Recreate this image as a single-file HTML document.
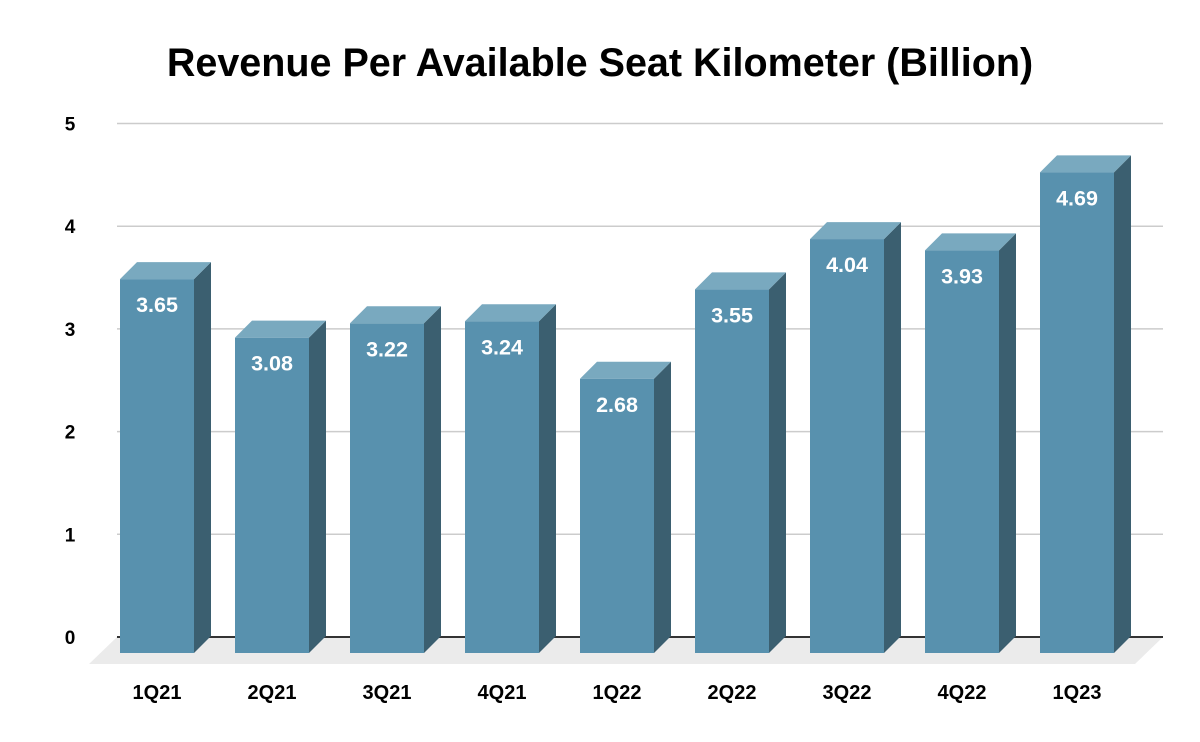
<!DOCTYPE html>
<html><head><meta charset="utf-8"><style>
body{margin:0;background:#fff;}
svg{display:block;font-family:"Liberation Sans",Arial,sans-serif;}
</style></head><body>
<svg id="chart" width="1200" height="742" viewBox="0 0 1200 742">
<text x="600" y="76" text-anchor="middle" font-size="39.5" font-weight="bold" fill="#000">Revenue Per Available Seat Kilometer (Billion)</text>
<g id="grid"></g><g id="bars"></g><g id="labels"></g>
</svg>
<script>
const categories=["1Q21","2Q21","3Q21","4Q21","1Q22","2Q22","3Q22","4Q22","1Q23"];
const values=[3.65,3.08,3.22,3.24,2.68,3.55,4.04,3.93,4.69];
const valueLabels=["3.65","3.08","3.22","3.24","2.68","3.55","4.04","3.93","4.69"];
const ticks=[0,1,2,3,4,5];
const NS="http://www.w3.org/2000/svg";
const y0=637,unit=102.7,x0=120,step=115,bw=74,d=17;
const y=v=>y0-v*unit;
const xf=i=>x0+i*step;
function mk(tag,attrs,parent){const e=document.createElementNS(NS,tag);for(const k in attrs)e.setAttribute(k,attrs[k]);parent.appendChild(e);return e;}
const grid=document.getElementById('grid'),bars=document.getElementById('bars'),labels=document.getElementById('labels');
const floor=mk('polygon',{points:`117,${y0} 1163,${y0} 1135,664 89,664`,fill:'#ebebeb'},grid);


ticks.forEach(t=>{
  const l=mk('line',{x1:117,x2:1163,y1:y(t),y2:y(t),stroke:t===0?'#333':'#cccccc','stroke-width':t===0?2:1.5},grid);
  
  
  const tx=mk('text',{x:70,y:y(t)+7,'text-anchor':'middle','font-size':19,'font-weight':'bold',fill:'#000'},labels);
  tx.textContent=t;
  
  
});
values.forEach((v,i)=>{
  const x=xf(i),top=y(v)+d,bot=y0+d-1;
  const g=mk('g',{},bars);
  
  
  mk('polygon',{points:`${x+bw},${top} ${x+bw+d},${top-d} ${x+bw+d},${bot-d} ${x+bw},${bot}`,fill:'#3b5f70'},g);
  mk('polygon',{points:`${x},${top} ${x+d},${top-d} ${x+bw+d},${top-d} ${x+bw},${top}`,fill:'#79a9bf'},g);
  mk('rect',{x:x,y:top,width:bw,height:bot-top,fill:'#5891ae'},g);
  const vl=mk('text',{x:x+bw/2,y:top+33,'text-anchor':'middle','font-size':21.5,'font-weight':'bold',fill:'#fff'},labels);
  vl.textContent=valueLabels[i];
  
  
  const cl=mk('text',{x:x+bw/2,y:699,'text-anchor':'middle','font-size':20,'font-weight':'bold',fill:'#000'},labels);
  cl.textContent=categories[i];
  
  
});
</script>
</body></html>
